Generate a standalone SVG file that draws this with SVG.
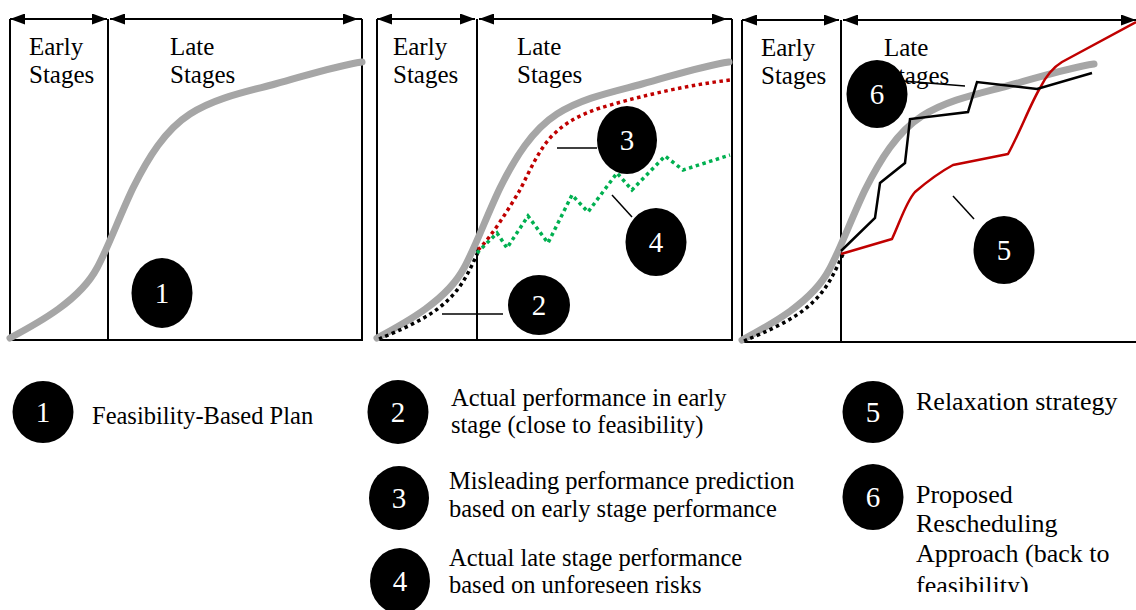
<svg xmlns="http://www.w3.org/2000/svg" width="1136" height="610" viewBox="0 0 1136 610">
  <style>
    text { font-family: "Liberation Serif", "Times New Roman", serif; fill: #000; }
    .lbl { font-size: 25px; }
    .leg { font-size: 24.5px; }
    .leg2 { font-size: 26px; }
    .num { font-size: 29px; fill: #fff; text-anchor: middle; }
    .frame { stroke: #000; stroke-width: 2; fill: none; }
    .span { stroke: #000; stroke-width: 2; fill: none; marker-start: url(#tip); marker-end: url(#tip); }
    .plan { stroke: #a6a6a6; stroke-width: 7; fill: none; stroke-linecap: round; stroke-linejoin: round; }
    .early { stroke: #000; stroke-width: 3.5; fill: none; stroke-dasharray: 3.5 3.5; }
    .predict { stroke: #c00000; stroke-width: 3.5; fill: none; stroke-dasharray: 3.5 3.5; }
    .risk { stroke: #00b050; stroke-width: 3.5; fill: none; stroke-dasharray: 3.5 3.5; }
    .relax { stroke: #c00000; stroke-width: 2.5; fill: none; stroke-linejoin: round; }
    .resched { stroke: #000; stroke-width: 2.5; fill: none; stroke-linejoin: miter; }
    .lead { stroke: #000; stroke-width: 1.5; fill: none; }
    .dot { fill: #000; }
  </style>
  <defs>
    <marker id="tip" markerUnits="userSpaceOnUse" markerWidth="15" markerHeight="11" refX="15" refY="5.5" orient="auto-start-reverse">
      <path d="M0,0 L15,5.5 L0,11 Z" fill="#000"/>
    </marker>
    <path id="plan-curve" d="M10,338 C40,322 80,300 97,268 C108,248 120,215 133,188 C148,158 165,130 190,114 C215,98 245,92 275,84 C305,76 335,66 362,62"/>
    <clipPath id="legend-clip">
      <rect x="0" y="0" width="1136" height="592"/>
    </clipPath>
  </defs>

  <rect width="1136" height="610" fill="#fff"/>

  <!-- Panel 1: feasibility-based plan -->
  <g id="panel1">
    <path class="frame" d="M10,19 V340 H362 V19 M108,19 V340"/>
    <line class="span" x1="10" y1="19" x2="107" y2="19"/>
    <line class="span" x1="110" y1="19" x2="358" y2="19"/>
    <line x1="358" y1="19" x2="362" y2="19" stroke="#000" stroke-width="2"/>
    <text class="lbl" x="29" y="55">Early</text>
    <text class="lbl" x="29" y="83">Stages</text>
    <text class="lbl" x="170" y="55">Late</text>
    <text class="lbl" x="170" y="83">Stages</text>
    <use href="#plan-curve" class="plan"/>
  </g>

  <!-- Panel 2: early performance, misleading prediction, actual late performance -->
  <g id="panel2">
    <path class="frame" d="M377,19 V340 H732 V19 M477,19 V340"/>
    <line class="span" x1="377" y1="19" x2="475" y2="19"/>
    <line class="span" x1="479" y1="19" x2="727" y2="19"/>
    <line x1="727" y1="19" x2="732" y2="19" stroke="#000" stroke-width="2"/>
    <text class="lbl" x="393" y="55">Early</text>
    <text class="lbl" x="393" y="83">Stages</text>
    <text class="lbl" x="517" y="55">Late</text>
    <text class="lbl" x="517" y="83">Stages</text>
    <use href="#plan-curve" class="plan" transform="translate(367,0)"/>
    <path class="early" d="M379,339 C400,330 430,318 448,300 C462,287 470,270 478,252"/>
    <path class="predict" d="M478,250 C492,236 508,210 520,190 C530,170 538,152 550,138 C565,122 580,115 600,108 C630,99 680,86 730,80"/>
    <polyline class="risk" points="477,253 497,233 507,248 528,216 548,243 572,195 588,212 617,173 632,190 665,156 683,170 730,155"/>
  </g>

  <!-- Panel 3: relaxation strategy vs. proposed rescheduling -->
  <g id="panel3">
    <path class="frame" d="M742,20 V342 H1136 M841,20 V342"/>
    <line class="span" x1="742" y1="20" x2="839" y2="20"/>
    <line class="span" x1="843" y1="20" x2="1136" y2="20"/>
    <text class="lbl" x="761" y="56">Early</text>
    <text class="lbl" x="761" y="84">Stages</text>
    <text class="lbl" x="884" y="56">Late</text>
    <text class="lbl" x="884" y="84">Stages</text>
    <use href="#plan-curve" class="plan" transform="translate(732,2)"/>
    <path class="early" d="M744,341 C765,332 795,320 813,302 C827,289 835,272 843,254"/>
    <path class="relax" d="M841,254 L892,239 C900,222 906,202 915,192 C922,186 940,172 953,165 L1008,154 C1020,132 1030,105 1040,88 C1046,76 1052,68 1062,62 L1136,22"/>
    <polyline class="resched" points="841,251 875,218 880,183 905,163 910,119 968,112 977,82 1037,89 1092,73"/>
  </g>

  <!-- Leader lines from the numbered markers to their curves -->
  <g id="connectors">
    <line class="lead" x1="442" y1="314" x2="503" y2="314"/>
    <line class="lead" x1="557" y1="148" x2="597" y2="148"/>
    <line class="lead" x1="612" y1="195" x2="632" y2="217"/>
    <line class="lead" x1="953" y1="196" x2="974" y2="219"/>
  </g>

  <!-- Numbered markers on the charts -->
  <g id="marker1"><ellipse class="dot" cx="162" cy="293" rx="30.5" ry="35"/><text class="num" x="162" y="303">1</text></g>
  <g id="marker2"><ellipse class="dot" cx="539" cy="305" rx="31" ry="30"/><text class="num" x="539" y="315">2</text></g>
  <g id="marker3"><ellipse class="dot" cx="627" cy="140" rx="30" ry="34"/><text class="num" x="627" y="150">3</text></g>
  <g id="marker4"><ellipse class="dot" cx="656" cy="242" rx="30.5" ry="34"/><text class="num" x="656" y="252">4</text></g>
  <g id="marker5"><ellipse class="dot" cx="1004" cy="250" rx="30.5" ry="34"/><text class="num" x="1004" y="260">5</text></g>
  <g id="marker6"><ellipse class="dot" cx="877" cy="94" rx="30.5" ry="34"/><text class="num" x="877" y="104">6</text>
    <line class="lead" x1="903" y1="81" x2="965" y2="86"/></g>

  <!-- Legend -->
  <g id="legend1">
    <ellipse class="dot" cx="43" cy="412" rx="30.5" ry="31"/><text class="num" x="43" y="422">1</text>
    <text class="leg" x="92" y="424">Feasibility-Based Plan</text>
  </g>
  <g id="legend2">
    <ellipse class="dot" cx="398" cy="412" rx="30.5" ry="32"/><text class="num" x="398" y="422">2</text>
    <text class="leg" x="451" y="406">Actual performance in early</text>
    <text class="leg" x="451" y="433">stage (close to feasibility)</text>
  </g>
  <g id="legend3">
    <ellipse class="dot" cx="399" cy="498" rx="30" ry="32"/><text class="num" x="399" y="508">3</text>
    <text class="leg" x="449" y="489">Misleading performance prediction</text>
    <text class="leg" x="449" y="517">based on early stage performance</text>
  </g>
  <g id="legend4">
    <ellipse class="dot" cx="400" cy="581" rx="30" ry="33"/><text class="num" x="400" y="591">4</text>
    <text class="leg" x="449" y="566">Actual late stage performance</text>
    <text class="leg" x="449" y="593">based on unforeseen risks</text>
  </g>
  <g id="legend5">
    <ellipse class="dot" cx="873" cy="412" rx="30.5" ry="31"/><text class="num" x="873" y="422">5</text>
    <text class="leg2" x="916" y="410">Relaxation strategy</text>
  </g>
  <g id="legend6">
    <ellipse class="dot" cx="873" cy="497" rx="30.5" ry="33"/><text class="num" x="873" y="507">6</text>
    <g clip-path="url(#legend-clip)">
      <text class="leg2" x="916" y="503">Proposed</text>
      <text class="leg2" x="916" y="532">Rescheduling</text>
      <text class="leg2" x="916" y="562">Approach (back to</text>
      <text class="leg2" x="916" y="594">feasibility)</text>
    </g>
  </g>
</svg>
